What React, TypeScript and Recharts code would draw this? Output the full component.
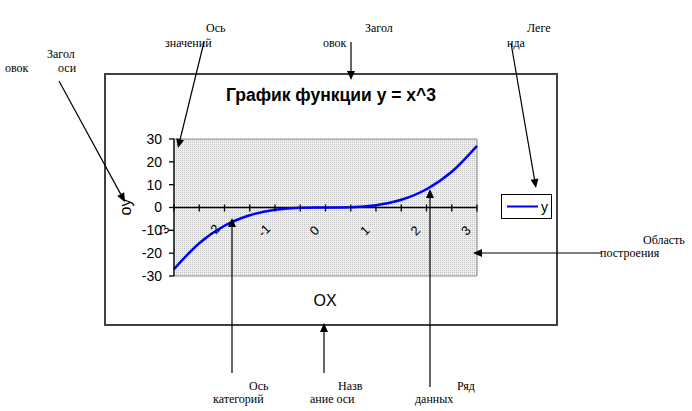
import React from 'react';
import {
  LineChart,
  Line,
  XAxis,
  YAxis,
  ReferenceArea,
  ReferenceLine,
  ReferenceDot,
  Legend,
} from 'recharts';

// ---- data ----
const xValues = [-3, -2.5, -2, -1.5, -1, -0.5, 0, 0.5, 1, 1.5, 2, 2.5, 3];
const yValues = [-27, -15.625, -8, -3.375, -1, -0.125, 0, 0.125, 1, 3.375, 8, 15.625, 27];
const yTicks = [-30, -20, -10, 0, 10, 20, 30];
const xTickMarks = [-3, -2.5, -2, -1.5, -1, -0.5, 0, 0.5, 1, 1.5, 2, 2.5, 3];
const xTickLabels = [-3, -2, -1, 0, 1, 2, 3];
const seriesName = 'y';
const chartTitle = 'График функции y = x^3';
const xAxisTitle = 'OX';
const yAxisTitle = 'oy';

const data = xValues.map((x, i) => ({ x, y: yValues[i] }));

const SANS = '"Liberation Sans", Arial, sans-serif';
const SERIF = '"Liberation Serif", "Times New Roman", serif';

// annotation texts (callouts around the chart)
const notes: { t: string; x: number; y: number }[] = [
  { t: 'Ось', x: 206, y: 32 },
  { t: 'значений', x: 165, y: 47 },
  { t: 'Загол', x: 47, y: 58 },
  { t: 'овок', x: 5, y: 72 },
  { t: 'оси', x: 58, y: 72 },
  { t: 'Загол', x: 365, y: 32 },
  { t: 'овок', x: 323, y: 47 },
  { t: 'Леге', x: 527, y: 32 },
  { t: 'нда', x: 507, y: 47 },
  { t: 'Область', x: 643, y: 244 },
  { t: 'построения', x: 600, y: 257 },
  { t: 'Ось', x: 249, y: 390 },
  { t: 'категорий', x: 213, y: 403 },
  { t: 'Назв', x: 338, y: 390 },
  { t: 'ание оси', x: 310, y: 403 },
  { t: 'Ряд', x: 457, y: 390 },
  { t: 'данных', x: 415, y: 403 },
];

const arrows: [number, number, number, number][] = [
  [204, 42, 178, 148],
  [59, 81, 125, 202],
  [351, 42, 351, 80],
  [511, 43, 536, 188],
  [602, 253, 473, 253],
  [232, 373, 232, 218],
  [324, 373, 324, 323],
  [430, 387, 430, 189],
];

function Arrow({ a }: { a: [number, number, number, number] }) {
  const [x1, y1, x2, y2] = a;
  const ang = Math.atan2(y2 - y1, x2 - x1);
  const L = 9;
  const W = 4;
  const bx = x2 - L * Math.cos(ang);
  const by = y2 - L * Math.sin(ang);
  const px = -Math.sin(ang) * W;
  const py = Math.cos(ang) * W;
  return (
    <g>
      <line x1={x1} y1={y1} x2={bx} y2={by} stroke="#000" strokeWidth={1.2} />
      <polygon points={`${x2},${y2} ${bx + px},${by + py} ${bx - px},${by - py}`} fill="#000" />
    </g>
  );
}

const LegendBox = (props: any) => {
  const item = (props.payload && props.payload[0]) || { value: seriesName, color: '#0000ff' };
  return (
    <svg width={52} height={26} style={{ display: 'block' }}>
      <rect x={0.5} y={0.5} width={50} height={24} fill="#fff" stroke="#000" strokeWidth={1} />
      <line x1={6} y1={12.5} x2={37} y2={12.5} stroke={item.color} strokeWidth={2} />
      <text x={40} y={18} fontFamily={SANS} fontSize={14} fill="#000">
        {item.value}
      </text>
    </svg>
  );
};

export default function App() {
  return (
    <div style={{ position: 'absolute', left: 0, top: 0, width: 692, height: 411, background: '#fff' }}>
      <svg width={0} height={0} style={{ position: 'absolute' }}>
        <defs>
          <pattern id="gray25" width={2} height={2} patternUnits="userSpaceOnUse">
            <rect width={2} height={2} fill="#efefef" />
            <rect x={0} y={0} width={1} height={1} fill="#c4c4c4" />
          </pattern>
        </defs>
      </svg>
      <div
        style={{
          position: 'absolute',
          left: 104,
          top: 73,
          width: 454,
          height: 253,
          boxSizing: 'border-box',
          border: '2px solid #404040',
          background: '#fff',
        }}
      />
      <div style={{ position: 'absolute', left: 0, top: 0 }}>
        <LineChart
          width={692}
          height={411}
          data={data}
          margin={{ top: 139, right: 215, bottom: 135, left: 114 }}
        >
          <XAxis dataKey="x" type="number" domain={[-3, 3]} hide />
          <YAxis
            type="number"
            domain={[-30, 30]}
            ticks={yTicks}
            width={60}
            interval={0}
            axisLine={{ stroke: '#000', strokeWidth: 1.3 }}
            tickLine={{ stroke: '#000', strokeWidth: 1.3 }}
            tickSize={5}
            tickMargin={7}
            tick={{ fill: '#000', fontSize: 14, fontFamily: SANS }}
          />
          <ReferenceArea
            x1={-3}
            x2={3}
            y1={-30}
            y2={30}
            fill="url(#gray25)"
            fillOpacity={1}
            stroke="#8a8a8a"
            strokeWidth={1}
          />
          <ReferenceLine y={0} stroke="#000" strokeWidth={1.3} />
          {xTickMarks.map((t) => (
            <ReferenceDot
              key={'m' + t}
              x={t}
              y={0}
              r={3}
              shape={(p: any) => (
                <line x1={p.cx} y1={p.cy - 3} x2={p.cx} y2={p.cy + 4} stroke="#000" strokeWidth={1.3} />
              )}
            />
          ))}
          {xTickLabels.map((t) => (
            <ReferenceDot
              key={'l' + t}
              x={t}
              y={0}
              r={3}
              shape={(p: any) => {
                const lx = p.cx - 11;
                const ly = p.cy + 23;
                return (
                  <text
                    x={lx}
                    y={ly}
                    textAnchor="middle"
                    dominantBaseline="central"
                    fontFamily={SANS}
                    fontSize={13}
                    fill="#000"
                    transform={`rotate(-45 ${lx} ${ly})`}
                  >
                    {t}
                  </text>
                );
              }}
            />
          ))}
          <Line
            type="monotone"
            dataKey="y"
            name={seriesName}
            stroke="#0000ff"
            strokeWidth={2.5}
            dot={false}
            activeDot={false}
            isAnimationActive={false}
          />
          <Legend
            layout="vertical"
            align="center"
            verticalAlign="middle"
            content={LegendBox}
            wrapperStyle={{ position: 'absolute', left: 501, top: 194, width: 52, height: 26 }}
          />
        </LineChart>
      </div>
      <svg
        width={692}
        height={411}
        style={{ position: 'absolute', left: 0, top: 0, pointerEvents: 'none' }}
      >
        <text x={331} y={101} textAnchor="middle" fontFamily={SANS} fontSize={17.5} fontWeight="bold" fill="#000">
          {chartTitle}
        </text>
        <text x={325} y={306} textAnchor="middle" fontFamily={SANS} fontSize={16} fill="#000">
          {xAxisTitle}
        </text>
        <text
          x={125}
          y={207}
          textAnchor="middle"
          dominantBaseline="central"
          fontFamily={SANS}
          fontSize={16}
          fill="#000"
          transform="rotate(-90 125 207)"
        >
          {yAxisTitle}
        </text>
        {notes.map((n, i) => (
          <text key={i} x={n.x} y={n.y} fontFamily={SERIF} fontSize={12} fill="#000">
            {n.t}
          </text>
        ))}
        {arrows.map((a, i) => (
          <Arrow key={i} a={a} />
        ))}
      </svg>
    </div>
  );
}
